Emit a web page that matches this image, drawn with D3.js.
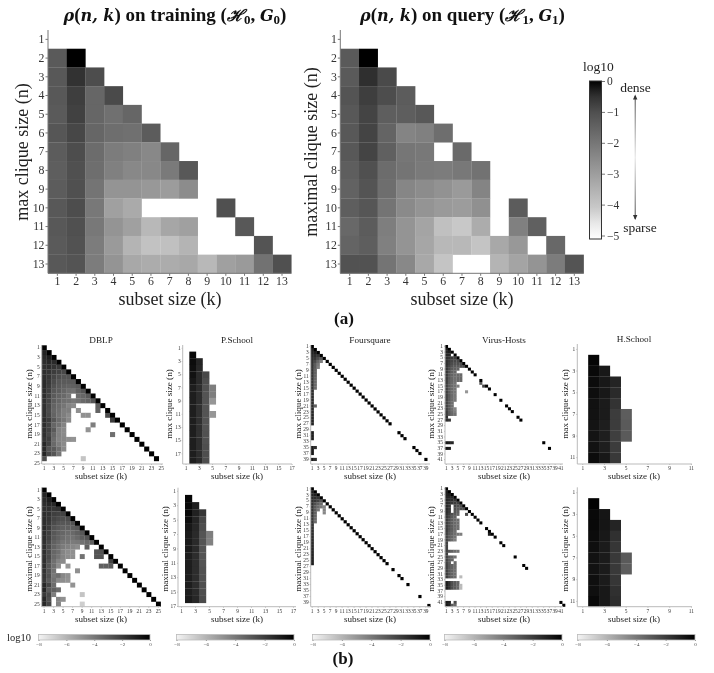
<!DOCTYPE html>
<html>
<head>
<meta charset="utf-8">
<script src="https://d3js.org/d3.v7.min.js"></script>
<style>
  body { margin: 0; background: #fff; }
  svg { display: block; font-family: "Liberation Serif", serif; }
  .big { filter: blur(0.4px); }
  .small { filter: blur(0.6px); }
</style>
</head>
<body>
<div class="chart"></div>
<script>
// log10 density per row; row i is n = i + 1, entry j is k = j + 1, null = no cell
var trainRows = [
  [],
  [-1.25, 0],
  [-1.2, -0.5, -0.95],
  [-1.2, -0.7, -1.55, -0.9],
  [-1.25, -0.75, -1.55, -1.8, -1.55],
  [-1.15, -0.85, -1.55, -1.75, -1.8, -1.3],
  [-1.3, -0.95, -1.7, -2.1, -2.2, -2.4, -1.55],
  [-1.35, -1, -1.75, -2.2, -2.4, -2.4, -2.05, -1.2],
  [-1.3, -1, -1.9, -2.7, -2.7, -2.8, -2.9, -2.5],
  [-1.2, -0.95, -2, -3, -3.25, null, null, null, null, -1],
  [-1.2, -1, -2, -2.7, -3, -3.6, -3.15, -3, null, null, -1.2],
  [-1.25, -1.05, -2.1, -2.85, -3.5, -3.85, -3.8, -3.5, null, null, null, -1.1],
  [-1.2, -1.1, -2.1, -2.7, -3.2, -3.3, -3.3, -3.2, -3.6, -3, -2.85, -1.85, -1]
];
var queryRows = [
  [],
  [-1.25, 0],
  [-1.25, -0.45, -0.9],
  [-1.1, -0.7, -0.95, -1.3],
  [-1.2, -0.8, -1.35, -1.35, -1.2],
  [-1.2, -0.8, -1.5, -2.3, -2.2, -1.75],
  [-1.2, -0.8, -1.4, -1.95, -2, null, -1.65],
  [-1.35, -1, -1.7, -1.9, -2.05, -2.1, -2, -1.85],
  [-1.45, -1.1, -1.75, -2.35, -2.5, -2.65, -2.85, -2.3],
  [-1.35, -1.15, -1.9, -2.45, -2.7, -2.85, -2.9, -2.6, null, -1.3],
  [-1.6, -1.3, -2.15, -2.7, -3.1, -3.8, -4, -3.3, null, -2.2, -1.4],
  [-1.5, -1.35, -2.2, -2.7, -3.15, -3.6, -3.6, -3.9, -3.2, -2.8, null, -1.6],
  [-1.05, -1.05, -1.9, -2.4, -3.2, -3.9, null, null, -3.5, -3.1, -2.7, -2.1, -1.1]
];

var dblpMaxRows = [
  [], [-1.2], [-1.4, -1], [-1.5, -1.3, -1.4], [-1.6, -1.5, -1.7, -1.9],
  [-1.5, -1.7, -2, -2.2, -2.4], [-1.5, -1.8, -2.3, -2.6, -2.8, -2.8],
  [-1.4, -1.9, -2.5, -2.9, -3, -3, -3], [-1.4, -2, -2.7, -3, -3.2, -3.3, -3.2, -3],
  [-1.5, -2.1, -2.9, -3.1, -3.4, -3.7, -3.8, -3.2, -2.8],
  [-1.5, -2.2, -3, -3.3, -3.5, -3.9, null, -3.6, -3.4, -3],
  [-1.6, -2.3, -3.1, -3.4, -3.7, -3.8, -4, -3.8, -3.5, -3.3, -2.8],
  [-1.6, -2.4, -3.3, -3.6, -3.9, -4.4, -4.6],
  [-1.6, -2.5, -3.4, -3.7, -4.2, -4.2],
  [-1.6, -2.4, -3.3, -3.8, -4.2, -4.6],
  [-1.5, -2, -2.9, -3.6, -4, -4.6],
  [-1.5, -2.2, -3.4, -3.8, -4.4],
  [-1.6, -2.2, -3, -4.3, -4.6],
  [-1.6, -2.4, -3.4, -4.3, -4.6],
  [-1.8, -2.1, -3.6, -4.4, -4.5, -4.8, -4.9],
  [-1.3, -2.2, -3.5, -4.2, -4.6],
  [-1.4, -2.8, -3, -3.7, -4.6],
  [-1.2, -2.4, -2.8, -3.9],
  [-2.6], []
];
var dblpMaxExtra = [[13, 12, -3.2], [14, 8, -4.8], [14, 12, -3.3], [15, 9, -4.8], [15, 10, -4.8],
  [15, 14, -2.6], [16, 15, -2], [17, 11, -4.2], [18, 10, -4.9], [19, 15, -3.7], [24, 9, -6.5]];
var dblpMaxDiag = d3.range(1, 25);

var dblpMaximalRows = [
  [], [-1.2], [-1.4, -1], [-1.5, -1.3, -1.3], [-1.6, -1.6, -1.8, -1.7],
  [-1.5, -1.7, -2.1, -2.2, -2.2], [-1.5, -1.8, -2.3, -2.5, -2.6, -2.5],
  [-1.5, -1.9, -2.5, -2.8, -2.9, -2.9, -2.7], [-1.4, -2, -2.8, -3, -3.2, -3.2, -3.1, -2.9],
  [-1.5, -2.1, -2.9, -3.2, -3.4, -3.6, -3.5, -3.2, -2.9],
  [-1.5, -2.2, -3, -3.3, -3.6, -3.8, -3.8, -3.5, -3.1, -2.8],
  [-1.6, -2.4, -3.2, -3.5, -3.9, -3.9, -4.1, -4, -3.8, -3.5, -3.2],
  [-1.6, -2.5, -3.3, -3.7, -4.1, -4.3, -4.5, -4.7],
  [-1.6, -2.5, -3.4, -3.7, -4.4, -4.7, -4.8],
  [-1.7, -2.5, -3.5, -3.9, -4.4, -4.7, -4.8],
  [-1.6, -2.7, -3.7, -4.4, -4.6],
  [-1.6, -2.9, -3.7, -4.7],
  [-1.7, -2.8, -3.8],
  [-1.8, -2.7, -4, -3.7, -4.5, -4.8],
  [-1.9, -3, -3.8, -4.6, -4.7, -4.9],
  [-1.3, -2.3, -3.6],
  [-1.2, -3, -3.2, -3.6],
  [-1.9, -2.4, -4.2],
  [-1.3, -2.6, null, -4.4, -4.8],
  [-1.3, -2.3, null, -4.4]
];
var dblpMaximalExtra = [[13, 10, -3.2], [14, 12, -2.8], [14, 13, -2.8], [15, 9, -3.8], [15, 12, -2.8], [15, 13, -2.8],
  [16, 15, -2.2], [17, 6, -5], [17, 13, -3.2], [17, 14, -3.2], [17, 15, -3], [18, 8, -4.8],
  [21, 7, -4.9], [23, 9, -6.5], [25, 9, -6.8]];
var dblpMaximalDiag = d3.range(1, 26);

var pschoolMaxRows = [
  [], [null, -0.3], [null, -0.4, -1.2], [null, -0.5, -1.3], [null, -0.6, -1.4, -2.4],
  [null, -0.8, -1.4, -2.6], [null, -1, -1.5, -2.7, -4.2], [null, -1, -1.5, -2.8, -4.2],
  [null, -1, -1.5, -2.8, -5], [null, -1, -1.6, -2.8], [null, -1, -1.6, -2.8, -5],
  [null, -1, -1.6, -2.8], [null, -1, -1.6, -2.8], [null, -1, -1.6, -2.7], [null, -1, -1.5, -2.7],
  [null, -1, -1.5, -2.6], [null, -1, -1.5, -2.6], [null, -1, -1.4, -2.6]
];
var pschoolMaximalRows = [
  [], [null, -0.2], [null, -0.3, -1], [null, -0.3, -1.1, -1.8], [null, -0.5, -1.2, -2.4],
  [null, -0.8, -1.3, -2.6], [null, -0.9, -1.4, -2.8, -4.2], [null, -0.9, -1.4, -2.8, -4.3],
  [null, -0.9, -1.4, -2.8], [null, -1, -1.5, -2.8], [null, -1, -1.5, -2.8],
  [null, -1, -1.5, -2.7], [null, -1, -1.5, -2.7], [null, -1, -1.5, -2.6], [null, -1, -1.4, -2.6],
  [null, -0.9, -1.3, -2.5]
];

var foursquareMaxRows = [
  [], [-1], [-1.2, -1], [-1.4, -1.5, -1.8], [-1.6, -1.8, -2.5, -2.9], [-1.7, -2.4, -3.4, -4.2],
  [-1.8, -3, -4], [-1.8, -3, -4.3], [-1.8, -3.2], [-1.8, -3.2], [-1.8, -3.3], [-1.8, -3.4],
  [-1.8, -3.5], [-1.7, -3.5], [-1.7, -3.6], [-1.6], [-1.6], [-1.5], [-1.5], [-1.5],
  [-1.5, -3.3], [-1.4], [-1.4], [-1.3], [-1.3], [-1.2], [-1.2], [], [],
  [-1], [-1], [-1], [], [], [-0.9, -1.5], [-0.9], [-0.8], [], [-0.8, -1.5]
];
var foursquareMaxDiag = d3.range(1, 28).concat([30, 31, 32, 35, 36, 37, 39]);

var foursquareMaximalRows = [
  [], [-1], [-1.2, -1], [-1.4, -1.5, -1.7], [-1.6, -1.8, -2.2, -2.8], [-1.7, -2.6, -3.2, -3.6],
  [-1.8, -3, -3.6, -4, -4.4], [-1.8, -3, -4, null, -4.4], [-1.8, -3.2, null, null, -4.5],
  [-1.8, -3.3], [-1.9, -3.5], [-1.9, -3.6], [-1.8], [-1.7], [-1.6], [-1.6], [-1.5], [-1.5],
  [-1.4], [-1.4], [-1.3], [-1.3], [-1.2], [-1.2], [-1.1], [-1]
];
var foursquareMaximalDiag = d3.range(1, 27).concat([28, 30, 31, 33, 37, 40]);

var virusMaxRows = [
  [], [-1], [-1.2, -0.9], [-1.3, -1.3], [-1.5, -1.7, -1.9, -2], [-1.6, -1.9, -2.3, -2.4, -2.4],
  [-1.6, -2, -2.5, -2.7, -2.6, -2.4], [-1.7, -2.2, -2.8, -3, -3, -2.6, -2.4],
  [-1.7, -2.4, -3, -3.2, -3.3], [-1.8, -2.6, -3.2, -3.4], [-1.9, -2.9, -3.3, -3.6, -3.5, -3.5],
  [-2, -2.9, -3.4, -3.7, -3.5, -3.5], [-2, -3, -3.4, -3.7, -3.5, -3.5], [-2, -3, -3.5, -3.8],
  [-2.1, -3, -3.5, -3.8, -4.2], [-2.1, -3, -3.5, -3.9], [-2.1, -3, -3.6, -3.9], [-2.2, -3, -3.6, -4],
  [-2.2, -3, -3.6, -4], [-2.2, -3, -3.6, -4], [-2.2, -3, -3.7], [-2.2, -3, -3.7],
  [-2.2, -3, -3.7, -4.4], [-2, -3, -3.6, -4.2], [-2, -2.9, -3.5, -3.8], [-1.6], [-1.5, -1.8],
  [], [], [], [], [], [], [], [-0.8, -1, -1.3], [], [-0.7, -0.9]
];
var virusMaxExtra = [[14, 13, -3], [15, 14, -2.2], [17, 8, -5]];
var virusMaxDiag = d3.range(1, 12).concat([13, 15, 16, 18, 20, 22, 23, 24, 26, 27, 35, 37]);

var virusMaximalRows = [
  [], [-1], [-1.1, -0.9], [-1.2, -1.2, -1.3], [-1.2, -1.4, -1.5, -1.7], [-1.3, -1.5, -1.8, -2, -2.1],
  [-1.3, -1.7, null, -2.3, -2.6, -2.5], [-1.3, -1.8, null, -2.6, -3, -2.6, -2.6],
  [-1.5, -1.9, null, -2.8, -3.2], [-1.6, -2.1, -2.6, -3, -3.4], [-1.8, -2.3, -3, -3.3],
  [-1.9, -2.5, -3.1, -3.5, -3.6], [-2, -2.6, -3.1, -3.5, -3.7], [-2, -2.6, -3.1, -3.5, -3.7],
  [-2, -2.7, -3.1, -3.6, -3.7], [-2, -2.8, -3.2, -3.7], [-2.1, -2.9, -3.3, -3.7, -4],
  [-2.2, -3, -3.4, -3.9], [-2.2, -3, -3.6, -4.2], [-2.2], [-2.2], [-2.2],
  [-2.1, -2.8, -3.2, -3.6, -3.8], [-2.1], [-2.1, -3, -3.3, -3.8], [-2.2, -3, -3.4],
  [-2.2, -3, null, -3.6], [-2.1, -2.9, -3.3, -3.7], [-2.1, -2.9, -3.3, -3.7], [-2.1, -2.9, -3.3, -3.7],
  [-2, -2.8, -3.3, -3.7], [-2, -2.8, -3.2, -3.6], [], [-1, -1.6, -2.6, -3, -3.4], [-1, -1.6, -2.6, -3, -3.4],
  [-1, -1.6, -2.6, -3, -3.4], [], [], [], [], [-0.8, -1, null, -2.5], [-0.8, -1.1, -3, -3.5]
];
var virusMaximalExtra = [[10, 8, -2.5], [17, 6, -4.2], [17, 16, -1], [32, 6, -6.2], [35, 6, -6.2], [36, 6, -6.2]];
var virusMaximalDiag = d3.range(1, 14).concat([15, 16, 17, 18, 20, 21, 25, 28, 29, 41, 42]);

var hschoolMaxRows = [
  [], [null, -0.15], [null, -0.3, -0.8], [null, -0.4, -0.8, -1.2], [null, -0.45, -0.8, -1.4],
  [null, -0.55, -0.9, -1.7], [null, -0.6, -0.9, -2, -3.1], [null, -0.65, -1, -2, -3],
  [null, -0.65, -1, -2.1, -3], [null, -0.6, -1, -2], [null, -0.4, -0.8, -1.9]
];
var hschoolMaximalRows = [
  [], [null, -0.05], [null, -0.3, -0.7], [null, -0.3, -0.7, -1.2], [null, -0.4, -0.8, -1.6],
  [null, -0.5, -0.9, -1.8], [null, -0.6, -0.9, -1.9, -3], [null, -0.6, -0.9, -1.9, -3.1],
  [null, -0.5, -0.9, -1.8], [null, -0.5, -0.8, -1.6], [null, -0.3, -0.8, -1.5]
];

var bigTicks = d3.range(1, 14);
var barTicksBig = [0, -1, -2, -3, -4, -5];
var barTicksSmall = [-8, -6, -4, -2, 0];

var svg = d3.select(".chart").append("svg").attr("width", 714).attr("height", 673);
var defs = svg.append("defs");
var bigGroup = svg.append("g").attr("class", "big");
var smallGroup = svg.append("g").attr("class", "small");

var bigColor = d3.scaleLinear()
  .domain([-5, -4.6, -4, -3, -2, -1, -0.4, 0])
  .range(["#ffffff", "#eeeeee", "#c8c8c8", "#a0a0a0", "#787878", "#505050", "#2c2c2c", "#000000"]);
var smallColor = d3.scaleLinear()
  .domain([-8, -6, -4, -2, 0])
  .range(["#f4f4f4", "#b4b4b4", "#787878", "#3c3c3c", "#000000"]);

function toCells(rows, extra, diag) {
  var cells = [];
  rows.forEach(function (row, i) {
    row.forEach(function (v, j) {
      if (v !== null) cells.push({ n: i + 1, k: j + 1, v: v });
    });
  });
  (extra || []).forEach(function (d) { cells.push({ n: d[0], k: d[1], v: d[2] }); });
  (diag || []).forEach(function (d) { cells.push({ n: d, k: d, v: 0 }); });
  return cells;
}

// one heatmap panel: frame in px, band scales, cells, axes and labels
function drawPanel(group, p) {
  var x = d3.scaleBand().domain(d3.range(1, p.cols + 1)).range([p.left, p.left + p.cols * p.cw]);
  var y = d3.scaleBand().domain(d3.range(1, p.nRows + 1)).range([p.top, p.top + p.nRows * p.ch]);

  group.append("g").selectAll("rect")
    .data(toCells(p.rows, p.extra, p.diag))
    .enter()
    .append("rect")
    .attr("x", d => x(d.k))
    .attr("y", d => y(d.n))
    .attr("width", x.bandwidth() + 0.2)
    .attr("height", y.bandwidth() + 0.2)
    .attr("fill", d => p.color(d.v));

  var bottom = group.append("g")
    .attr("transform", `translate(0, ${p.bottom})`)
    .call(d3.axisBottom(x).tickValues(p.xTicks).tickSize(p.tick).tickPadding(p.pad));
  var left = group.append("g")
    .attr("transform", `translate(${p.left}, 0)`)
    .call(d3.axisLeft(y).tickValues(p.yTicks).tickSize(p.tick).tickPadding(p.pad));

  [bottom, left].forEach(function (a) {
    a.select(".domain").remove();
    a.selectAll("line").attr("stroke", p.spine);
    a.selectAll("text")
      .attr("fill", p.tickColor)
      .style("font-family", '"Liberation Serif", serif')
      .style("font-size", p.tickFont + "px");
  });

  group.append("line").attr("x1", p.left).attr("x2", p.left).attr("y1", p.top).attr("y2", p.bottom)
    .attr("stroke", p.spine).attr("stroke-width", p.spineWidth);
  group.append("line").attr("x1", p.left).attr("x2", p.right).attr("y1", p.bottom).attr("y2", p.bottom)
    .attr("stroke", p.spine).attr("stroke-width", p.spineWidth);

  group.append("text")
    .attr("x", p.xLabelX).attr("y", p.xLabelY)
    .attr("text-anchor", "middle").attr("font-size", p.labelFont).attr("fill", p.labelColor)
    .text("subset size (k)");
  group.append("text")
    .attr("transform", `translate(${p.yLabelX}, ${p.yLabelY}) rotate(-90)`)
    .attr("text-anchor", "middle").attr("font-size", p.labelFont).attr("fill", p.labelColor)
    .text(p.yLabel);
}

// Part (a)
[
  { left: 48, rows: trainRows, yLabel: "max clique size (n)", yLabelX: 28, yLabelY: 152, xLabelX: 170 },
  { left: 340.3, rows: queryRows, yLabel: "maximal clique size (n)", yLabelX: 317, yLabelY: 152, xLabelX: 462 }
].forEach(function (d) {
  drawPanel(bigGroup, Object.assign({
    top: 30, bottom: 273.3, right: d.left + 243.3, cols: 13, nRows: 13, cw: 18.72, ch: 18.72,
    color: bigColor, xTicks: bigTicks, yTicks: bigTicks, tick: 2.5, pad: 1, spine: "#777", spineWidth: 1,
    tickColor: "#333", tickFont: 11.8, labelFont: 18, labelColor: "#222", xLabelY: 304.5
  }, d));
});

// bold serif title with italic maths and subscripts
function title(x, word, sym, sub) {
  var t = bigGroup.append("text")
    .attr("x", x).attr("y", 21).attr("text-anchor", "middle")
    .attr("font-size", 19).attr("font-weight", "bold").attr("fill", "#111");
  function math(s) {
    t.append("tspan").attr("font-style", "italic").attr("font-family", '"DejaVu Serif"').attr("font-size", 16).text(s);
  }
  math("ρ");
  t.append("tspan").text("(");
  math("n, k");
  t.append("tspan").text(") on " + word + " (");
  math(sym);
  t.append("tspan").attr("font-size", 13).attr("dy", 3).text(sub);
  t.append("tspan").attr("dy", -3).text(", ");
  math("G");
  t.append("tspan").attr("font-size", 13).attr("dy", 3).text(sub);
  t.append("tspan").attr("dy", -3).text(")");
}
title(175, "training", "ℋ", "0");
title(462.5, "query", "ℋ", "1");

// colour bar of part (a)
var bigGrad = defs.append("linearGradient").attr("id", "bigGrad")
  .attr("x1", 0).attr("x2", 0).attr("y1", 1).attr("y2", 0);
d3.range(-5, 0.01, 0.25).forEach(function (v) {
  bigGrad.append("stop").attr("offset", (v + 5) / 5).attr("stop-color", bigColor(v));
});
var barY = d3.scaleLinear().domain([-5, 0]).range([235.5, 81]);
bigGroup.append("rect").attr("x", 589.5).attr("y", 81).attr("width", 12).attr("height", 158)
  .attr("fill", "url(#bigGrad)").attr("stroke", "#333").attr("stroke-width", 1);
var bigBarAxis = bigGroup.append("g").attr("transform", "translate(602, 0)")
  .call(d3.axisRight(barY).tickValues(barTicksBig).tickSize(3).tickPadding(2)
    .tickFormat(d => d === 0 ? "0" : "−" + Math.abs(d)));
bigBarAxis.select(".domain").remove();
bigBarAxis.selectAll("line").attr("stroke", "#777");
bigBarAxis.selectAll("text").attr("fill", "#333")
  .style("font-family", '"Liberation Serif", serif').style("font-size", "11.5px");
bigGroup.append("text").attr("x", 598.5).attr("y", 71).attr("text-anchor", "middle").attr("font-size", 13.5).attr("fill", "#222").text("log10");
bigGroup.append("text").attr("x", 635.5).attr("y", 92).attr("text-anchor", "middle").attr("font-size", 13.5).attr("fill", "#222").text("dense");
bigGroup.append("text").attr("x", 640).attr("y", 232).attr("text-anchor", "middle").attr("font-size", 13.5).attr("fill", "#222").text("sparse");

// the fading double arrow next to the bar
var arrowGrad = defs.append("linearGradient").attr("id", "arrowGrad")
  .attr("gradientUnits", "userSpaceOnUse").attr("x1", 0).attr("x2", 0).attr("y1", 96).attr("y2", 219);
arrowGrad.append("stop").attr("offset", 0).attr("stop-color", "#444");
arrowGrad.append("stop").attr("offset", 0.5).attr("stop-color", "#e4e4e4");
arrowGrad.append("stop").attr("offset", 1).attr("stop-color", "#444");
bigGroup.append("rect").attr("x", 634.7).attr("y", 96).attr("width", 1).attr("height", 123).attr("fill", "url(#arrowGrad)");
bigGroup.append("path").attr("d", "M635.2,94.5 L633,99.5 L637.4,99.5 Z M635.2,220 L633,215 L637.4,215 Z").attr("fill", "#333");

bigGroup.append("text").attr("x", 344).attr("y", 324).attr("text-anchor", "middle")
  .attr("font-size", 17).attr("font-weight", "bold").attr("fill", "#111").text("(a)");
smallGroup.append("text").attr("x", 343).attr("y", 664).attr("text-anchor", "middle")
  .attr("font-size", 17).attr("font-weight", "bold").attr("fill", "#111").text("(b)");

// Part (b): one column per data set, max on top, maximal below
var odd = n => d3.range(1, n + 1, 2);
var smallStyle = {
  color: smallColor, tick: 1, pad: 1, spine: "#bbb", spineWidth: 1, tickColor: "#333",
  tickFont: 5.4, labelFont: 9.1, labelColor: "#222"
};
var columns = [
  { name: "DBLP", cx: 101, barLeft: 38.5, barRight: 150,
    top: { left: 41.7, right: 163, cols: 25, nRows: 25, cw: 4.88, ch: 4.82, tops: 345.3, labelX: 31.5, rows: dblpMaxRows, extra: dblpMaxExtra, diag: dblpMaxDiag },
    low: { left: 41.7, right: 160, cols: 25, nRows: 25, cw: 4.76, ch: 4.75, tops: 487.6, labelX: 31.5, rows: dblpMaximalRows, extra: dblpMaximalExtra, diag: dblpMaximalDiag } },
  { name: "P.School", cx: 237, barLeft: 176.5, barRight: 294,
    top: { left: 182.7, right: 292, cols: 17, nRows: 18, cw: 6.63, ch: 6.6, tops: 345, labelX: 172, rows: pschoolMaxRows },
    low: { left: 178, right: 296, cols: 17, nRows: 17, cw: 7, ch: 7.2, tops: 487.7, labelX: 168, rows: pschoolMaximalRows } },
  { name: "Foursquare", cx: 370, barLeft: 312.5, barRight: 430,
    top: { left: 310.7, right: 430, cols: 40, nRows: 40, cw: 2.99, ch: 2.97, tops: 345, labelX: 300.5, rows: foursquareMaxRows, diag: foursquareMaxDiag },
    low: { left: 310.7, right: 430, cols: 40, nRows: 40, cw: 2.99, ch: 2.99, tops: 487.3, labelX: 300.5, rows: foursquareMaximalRows, diag: foursquareMaximalDiag } },
  { name: "Virus-Hosts", cx: 504, barLeft: 444.5, barRight: 562,
    top: { left: 445, right: 563, cols: 42, nRows: 42, cw: 2.86, ch: 2.83, tops: 345, labelX: 434, rows: virusMaxRows, extra: virusMaxExtra, diag: virusMaxDiag },
    low: { left: 445, right: 563, cols: 42, nRows: 42, cw: 2.86, ch: 2.84, tops: 487.3, labelX: 434, rows: virusMaximalRows, extra: virusMaximalExtra, diag: virusMaximalDiag } },
  { name: "H.School", cx: 634, barLeft: 577.5, barRight: 695,
    top: { left: 577.3, right: 692, cols: 11, nRows: 11, cw: 10.87, ch: 10.83, tops: 344, labelX: 568, rows: hschoolMaxRows },
    low: { left: 577.3, right: 692, cols: 11, nRows: 11, cw: 10.87, ch: 10.87, tops: 487.3, labelX: 568, rows: hschoolMaximalRows } }
];

var smallGrad = defs.append("linearGradient").attr("id", "smallGrad");
d3.range(-8, 0.01, 1).forEach(function (v) {
  smallGrad.append("stop").attr("offset", (v + 8) / 8).attr("stop-color", smallColor(v));
});

columns.forEach(function (c) {
  smallGroup.append("text").attr("x", c.cx).attr("y", c.name === "H.School" ? 342 : 343)
    .attr("text-anchor", "middle").attr("font-size", 9.2).attr("fill", "#222").text(c.name);

  drawPanel(smallGroup, Object.assign({}, smallStyle, c.top, {
    top: c.top.tops, bottom: 464, xTicks: odd(c.top.cols), yTicks: odd(c.top.nRows),
    yLabel: "max clique size (n)", yLabelX: c.top.labelX, yLabelY: 404,
    xLabelX: c.cx, xLabelY: 479
  }));
  drawPanel(smallGroup, Object.assign({}, smallStyle, c.low, {
    top: c.low.tops, bottom: 606.7, xTicks: odd(c.low.cols), yTicks: odd(c.low.nRows),
    yLabel: "maximal clique size (n)", yLabelX: c.low.labelX, yLabelY: 549,
    xLabelX: c.cx, xLabelY: 622
  }));

  // horizontal colour bar under each column
  var bx = d3.scaleLinear().domain([-8, 0]).range([c.barLeft, c.barRight]);
  smallGroup.append("rect").attr("x", c.barLeft).attr("y", 634.5)
    .attr("width", c.barRight - c.barLeft).attr("height", 5.5)
    .attr("fill", "url(#smallGrad)").attr("stroke", "#bbb").attr("stroke-width", 0.8);
  var ax = smallGroup.append("g").attr("transform", "translate(0, 640)")
    .call(d3.axisBottom(bx).tickValues(barTicksSmall).tickSize(1).tickPadding(1)
      .tickFormat(d => d === 0 ? "0" : "−" + Math.abs(d)));
  ax.select(".domain").remove();
  ax.selectAll("line").attr("stroke", "#999");
  ax.selectAll("text").attr("fill", "#444")
    .style("font-family", '"Liberation Serif", serif').style("font-size", "5px");
});
smallGroup.append("text").attr("x", 19).attr("y", 641).attr("text-anchor", "middle")
  .attr("font-size", 10.5).attr("fill", "#222").text("log10");
</script>
</body>
</html>
